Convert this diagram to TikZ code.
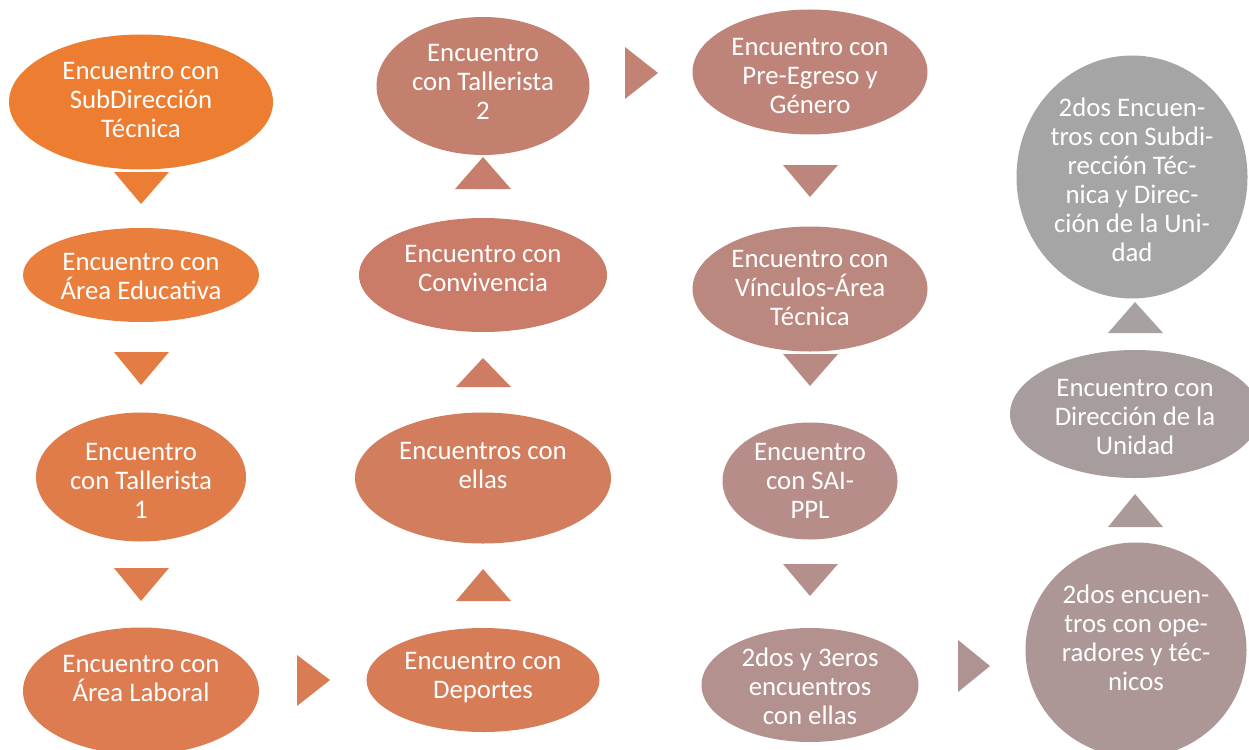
\documentclass[tikz,border=0pt]{standalone}
\usepackage{fontspec}
\setmainfont{Carlito}
\usetikzlibrary{shapes.geometric,calc}

% fill colours, orange to grey
\definecolor{cE1}{HTML}{ED7D31}
\definecolor{cE2}{HTML}{E97E3D}
\definecolor{cE3}{HTML}{E07C4A}
\definecolor{cE4}{HTML}{DC7C50}
\definecolor{cF1}{HTML}{D67D58}
\definecolor{cF2}{HTML}{D27D5E}
\definecolor{cF3}{HTML}{CA7C68}
\definecolor{cF4}{HTML}{C4806F}
\definecolor{cG1}{HTML}{BF8479}
\definecolor{cG2}{HTML}{BB887F}
\definecolor{cG3}{HTML}{B68D89}
\definecolor{cG4}{HTML}{B3918E}
\definecolor{cH1}{HTML}{AC9696}
\definecolor{cH2}{HTML}{A89D9D}
\definecolor{cH3}{HTML}{A5A5A5}

\begin{document}
\begin{tikzpicture}[x=1pt,y=-1pt,
    blob/.style={ellipse, inner sep=0pt},
    txt/.style={text=white, align=center, inner sep=0pt,
        font=\fontsize{26.8}{29}\selectfont}]
    \useasboundingbox (0,0) rectangle (1249,749);
    \clip (0,0) rectangle (1249,749);

    % Column 1 (downwards)
    \node[blob, fill=cE1, minimum width=264, minimum height=135] (e1) at (141,102) {};
    \node[txt] (e1t) at ([yshift=2pt]e1.center) {Encuentro con\\SubDirección\\Técnica};
    \node[blob, fill=cE2, minimum width=236, minimum height=94] (e2) at (141,275) {};
    \node[txt] (e2t) at ([yshift=-1pt]e2.center) {Encuentro con\\Área Educativa};
    \node[blob, fill=cE3, minimum width=210, minimum height=129] (e3) at (141,477) {};
    \node[txt] (e3t) at ([yshift=-4pt]e3.center) {Encuentro\\con Tallerista\\1};
    \node[blob, fill=cE4, minimum width=236, minimum height=127] (e4) at (141,691) {};
    \node[txt] (e4t) at ([yshift=13pt]e4.center) {Encuentro con\\Área Laboral};

    \fill[cE1!50!cE2] (114,172) -- (169,172) -- (141,204) -- cycle;
    \fill[cE2!50!cE3] (114,352) -- (169,352) -- (141,385) -- cycle;
    \fill[cE3!50!cE4] (114,568) -- (169,568) -- (141,601) -- cycle;
    \fill[cE4!50!cF1] (297,655) -- (297,706) -- (330,680) -- cycle;

    % Column 2 (upwards)
    \node[blob, fill=cF1, minimum width=233, minimum height=104] (f1) at (483,680) {};
    \node[txt] (f1t) at ([yshift=2pt]f1.center) {Encuentro con\\Deportes};
    \node[blob, fill=cF2, minimum width=256, minimum height=131] (f2) at (483,478) {};
    \node[txt] (f2t) at ([yshift=13pt]f2.center) {Encuentros con\\ellas};
    \node[blob, fill=cF3, minimum width=248, minimum height=114] (f3) at (483,275) {};
    \node[txt] (f3t) at ([yshift=7pt]f3.center) {Encuentro con\\Convivencia};
    \node[blob, fill=cF4, minimum width=213, minimum height=138] (f4) at (483,86) {};
    \node[txt] (f4t) at ([yshift=4pt]f4.center) {Encuentro\\con Tallerista\\2};

    \fill[cF1!50!cF2] (456,601) -- (511,601) -- (483,569) -- cycle;
    \fill[cF2!50!cF3] (456,387) -- (511,387) -- (483,358) -- cycle;
    \fill[cF3!50!cF4] (455,189) -- (511,189) -- (483,157) -- cycle;
    \fill[cF4!50!cG1] (625,47) -- (625,99) -- (658,73) -- cycle;

    % Column 3 (downwards)
    \node[blob, fill=cG1, minimum width=235, minimum height=125] (g1) at (810,72) {};
    \node[txt] (g1t) at ([yshift=-4pt]g1.center) {Encuentro con\\Pre-Egreso y\\Género};
    \node[blob, fill=cG2, minimum width=235, minimum height=125] (g2) at (810,289) {};
    \node[txt] (g2t) at ([yshift=1pt]g2.center) {Encuentro con\\Vínculos-Área\\Técnica};
    \node[blob, fill=cG3, minimum width=175, minimum height=117] (g3) at (810,481) {};
    \node[txt] (g3t) at (g3.center) {Encuentro\\con SAI-\\PPL};
    \node[blob, fill=cG4, minimum width=217, minimum height=114] (g4) at (810,685) {};
    \node[txt] (g4t) at ([yshift=-1pt]g4.center) {2dos y 3eros\\encuentros\\con ellas};

    \fill[cG1!50!cG2] (783,165) -- (838,165) -- (810,197) -- cycle;
    \fill[cG2!50!cG3] (783,354) -- (838,354) -- (810,386) -- cycle;
    \fill[cG3!50!cG4] (783,564) -- (838,564) -- (810,596) -- cycle;
    \fill[cG4!50!cH1] (958,640) -- (958,692) -- (990,666) -- cycle;

    % Column 4 (upwards)
    \node[blob, fill=cH1, minimum width=221, minimum height=215] (h1) at (1136,650) {};
    \node[txt] (h1t) at ([yshift=12pt]h1.center) {2dos encuen-\\tros con ope-\\radores y téc-\\nicos};
    \node[blob, fill=cH2, minimum width=250, minimum height=128] (h2) at (1135,414) {};
    \node[txt] (h2t) at ([yshift=-3pt]h2.center) {Encuentro con\\Dirección de la\\Unidad};
    \node[blob, fill=cH3, minimum width=231, minimum height=243] (h3) at (1132,177) {};
    \node[txt] (h3t) at ([yshift=-3pt]h3.center) {2dos Encuen-\\tros con Subdi-\\rección Téc-\\nica y Direc-\\ción de la Uni-\\dad};

    \fill[cH1!50!cH2] (1108,527) -- (1163,527) -- (1135,494) -- cycle;
    \fill[cH2!50!cH3] (1108,333) -- (1163,333) -- (1135,302) -- cycle;
\end{tikzpicture}
\end{document}
